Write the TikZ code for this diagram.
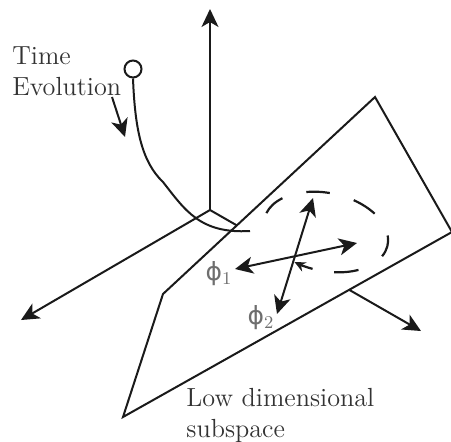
\documentclass[tikz,border=0pt]{standalone}
\usepackage{fontspec}
\newfontfamily\greekfont{DejaVu Sans}
\usetikzlibrary{arrows.meta}
\definecolor{ink}{HTML}{1A1A1A}
\definecolor{label-grey}{HTML}{333333}
\definecolor{phi-grey}{HTML}{6E6E6E}

\begin{document}
\begin{tikzpicture}[
    x=0.5pt, y=-0.5pt,
    >={Stealth[length=9pt, width=8.5pt, inset=2.5pt]},
    axis/.style={->, line width=1pt, ink},
    plane/.style={draw=ink, line width=1pt, fill=white, line join=miter},
    trajectory/.style={line width=1pt, ink},
    orbit/.style={line width=1.1pt, ink},
    basis/.style={<->, line width=1pt, ink},
    flow/.style={->, line width=1pt, ink},
    startdot/.style={circle, draw=ink, line width=1pt, fill=white,
        minimum size=8.5pt, inner sep=0pt},
    caption/.style={font=\fontsize{13.1}{15.5}\selectfont, text=label-grey,
        align=left, inner sep=0pt, anchor=north west},
    philabel/.style={font=\fontsize{12.5}{14}\selectfont, text=phi-grey, inner sep=0pt},
]

\useasboundingbox (0,0) rectangle (451,441);

% =====================================================================
% AXES — common origin, third axis partly hidden by the plane
% =====================================================================

\coordinate (O)     at (210,210);
\coordinate (zaxis) at (210,9);
\coordinate (xaxis) at (21,320);
\coordinate (yaxis) at (421,331);

\draw[axis] (O) -- (zaxis);
\draw[axis] (O) -- (xaxis);
\draw[axis] (O) -- (yaxis);

% =====================================================================
% LOW DIMENSIONAL PLANE
% =====================================================================

\coordinate (Ptop)    at (375,97);
\coordinate (Pright)  at (452,232);
\coordinate (Pbottom) at (123,417);
\coordinate (Pkink)   at (163,294);

\draw[plane] (Ptop) -- (Pright) -- (Pbottom) -- (Pkink) -- cycle;

% =====================================================================
% TRAJECTORY — from the start point down onto the plane
% =====================================================================

\node[startdot] (start) at (133,69) {};
\coordinate (trajend) at (250,231);

\draw[trajectory]
    (start.south)
    .. controls (135,130) and (142,162) .. (163,182)
    .. controls (185,210) and (200,234) .. (trajend);

% dashed orbit on the plane
\coordinate (E) at (326,232);
\begin{scope}[shift={(E)}, rotate=-12]
    \foreach \s/\e in {-18/14, 46/71, 94/116, 142/171, 285/309}
        \draw[orbit] (\s:31.5pt and 19.5pt)
            arc[start angle=\s, end angle=\e, x radius=31.5pt, y radius=19.5pt];
    \draw[orbit, -{Stealth[length=5.5pt, width=5pt]}] (265:31.5pt and 19.5pt)
        arc[start angle=265, end angle=247, x radius=31.5pt, y radius=19.5pt];
\end{scope}

% =====================================================================
% BASIS VECTORS
% =====================================================================

\coordinate (phione-a) at (235,269);
\coordinate (phione-b) at (357,243);
\coordinate (phitwo-a) at (313,198);
\coordinate (phitwo-b) at (277,314);

\draw[basis] (phione-a) -- (phione-b);
\draw[basis] (phitwo-a) -- (phitwo-b);

\node[philabel] (phione) at (219,274) {{\greekfont ϕ}$_1$};
\node[philabel] (phitwo) at (261,318) {{\greekfont ϕ}$_2$};

% =====================================================================
% LABELS
% =====================================================================

\node[caption] (tlabel)   at (12,46)  {Time\\Evolution};
\node[caption] (sublabel) at (186,388) {Low dimensional\\subspace};

\coordinate (evotail) at (112,97);
\coordinate (evohead) at (125,137);
\draw[flow] (evotail) -- (evohead);

\end{tikzpicture}
\end{document}
